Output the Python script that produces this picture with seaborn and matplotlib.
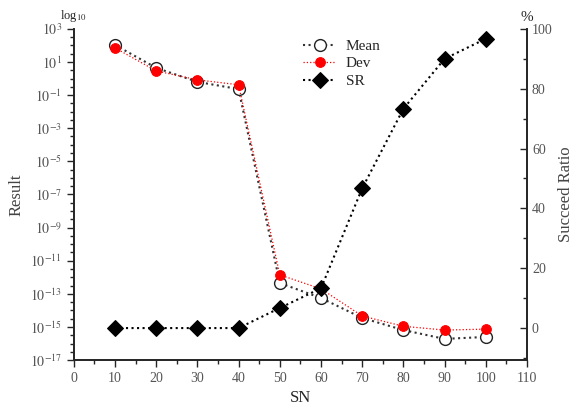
import numpy as np
import pandas as pd
import matplotlib
matplotlib.use("Agg")
import matplotlib.pyplot as plt
import matplotlib.ticker as mticker
import seaborn as sns

# values
sn = [10, 20, 30, 40, 50, 60, 70, 80, 90, 100]
mean_vals = [107, 4.4, 0.63, 0.23, 4.5e-13, 5.6e-14, 3.5e-15, 6.5e-16, 1.9e-16, 2.5e-16]
dev_vals = [71, 2.9, 0.83, 0.42, 1.4e-12, 2.0e-13, 4.6e-15, 1.1e-15, 6.5e-16, 7.4e-16]
sr_vals = [0, 0, 0, 0, 6.7, 13.3, 46.7, 73.3, 90, 96.7]

data = pd.DataFrame({"SN": sn, "Mean": mean_vals, "Dev": dev_vals, "SR": sr_vals})

sns.set_theme(style="ticks")
plt.rcParams["font.family"] = ["Liberation Serif", "DejaVu Serif"]
plt.rcParams["mathtext.fontset"] = "stix"

fig, ax = plt.subplots(figsize=(5.76, 4.12), dpi=100)
fig.subplots_adjust(left=0.128, right=0.915, top=0.93, bottom=0.126)

sns.lineplot(data=data, x="SN", y="Mean", ax=ax, color="#333333", linestyle=":",
             linewidth=1.5, marker="o", markersize=8.5, markerfacecolor="white",
             markeredgecolor="#222222", markeredgewidth=1.0, label="Mean", zorder=3)
sns.lineplot(data=data, x="SN", y="Dev", ax=ax, color="red", linestyle=":",
             linewidth=0.9, marker="o", markersize=7, markerfacecolor="red",
             markeredgecolor="red", label="Dev", zorder=4)
ax.set_yscale("log")
ax.set_ylim(1e-17, 1e3)
ax.set_xlim(0, 110)
ax.yaxis.set_major_locator(mticker.FixedLocator([10.0 ** e for e in range(-17, 4, 2)]))
ax.yaxis.set_minor_locator(mticker.FixedLocator([10.0 ** (e / 2) for e in range(-34, 7)]))
ax.yaxis.set_major_formatter(mticker.FuncFormatter(lambda v, p: r"$10^{%d}$" % round(np.log10(v))))
ax.yaxis.set_minor_formatter(mticker.NullFormatter())
ax.xaxis.set_major_locator(mticker.MultipleLocator(10))
ax.xaxis.set_minor_locator(mticker.MultipleLocator(5))
ax.set_xlabel("SN", fontsize=12)
ax.set_ylabel("Result", fontsize=12, color="#444444")
ax.tick_params(axis="both", which="major", length=5, width=1, labelsize=10, labelcolor="#555555")
ax.tick_params(axis="both", which="minor", length=3, width=1)
ax.spines["top"].set_visible(False)

ax2 = ax.twinx()
sns.lineplot(data=data, x="SN", y="SR", ax=ax2, color="black", linestyle=":",
             linewidth=1.5, marker="D", markersize=8, markerfacecolor="black",
             markeredgecolor="black", label="SR", zorder=5)
ax2.set_ylim(-10.7, 100)
ax2.yaxis.set_major_locator(mticker.MultipleLocator(20))
ax2.yaxis.set_minor_locator(mticker.MultipleLocator(10))
ax2.set_ylabel("Succeed Ratio", fontsize=12, color="#444444")
ax2.tick_params(axis="y", which="major", direction="in", length=5, width=1, labelsize=10, labelcolor="#555555")
ax2.tick_params(axis="y", which="minor", direction="in", length=3, width=1)
ax2.spines["top"].set_visible(False)

h1, l1 = ax.get_legend_handles_labels()
h2, l2 = ax2.get_legend_handles_labels()
ax.get_legend().remove()
ax2.legend(h1 + h2, l1 + l2, loc="upper left", bbox_to_anchor=(0.475, 1.01),
           frameon=False, fontsize=11, handlelength=2.2, labelspacing=0.25,
           handletextpad=0.6)

ax.text(0.0, 1.015, r"log$_{10}$", transform=ax.transAxes, ha="center", va="bottom", fontsize=9)
ax2.text(1.0, 1.015, "%", transform=ax2.transAxes, ha="center", va="bottom", fontsize=11)

fig.savefig("out.png", dpi=100)
